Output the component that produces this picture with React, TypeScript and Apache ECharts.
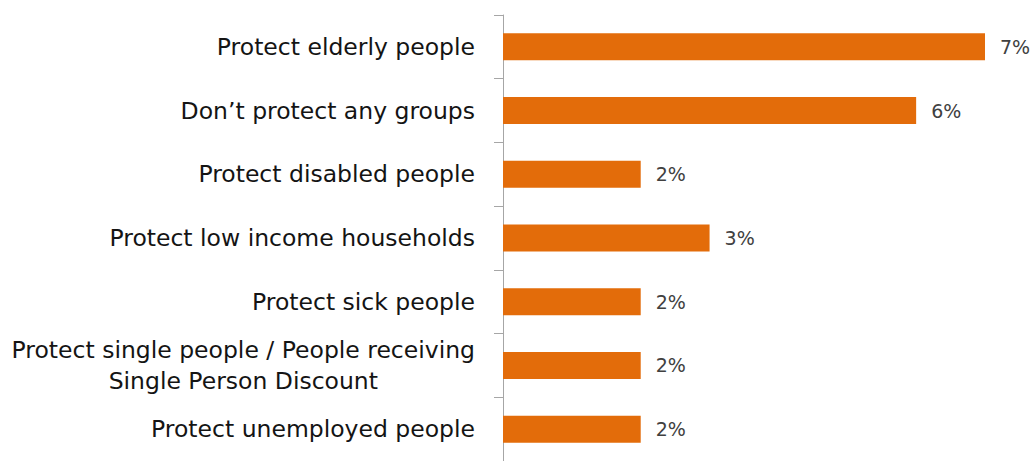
import React, { useEffect, useRef } from "react";
import * as echarts from "echarts";

const categories = [
  "Protect elderly people",
  "Don\u2019t protect any groups",
  "Protect disabled people",
  "Protect low income households",
  "Protect sick people",
  "Protect single people / People receiving\nSingle Person Discount",
  "Protect unemployed people",
];
const values = [7, 6, 2, 3, 2, 2, 2];

export default function App() {
  const ref = useRef<HTMLDivElement>(null);
  useEffect(() => {
    if (!ref.current) return;
    const chart = echarts.init(ref.current, null, { renderer: "svg" });
    const font = "DejaVu Sans";
    chart.setOption({
      animation: false,
      grid: { left: 503, right: 50, top: 15, height: 453 },
      xAxis: { type: "value", min: 0, max: 7, show: false },
      yAxis: {
        type: "category",
        data: categories,
        inverse: true,
        axisLine: { show: true, lineStyle: { color: "#A6A6A6", width: 1 } },
        axisTick: { show: true, length: 9, lineStyle: { color: "#A6A6A6" } },
        axisLabel: {
          margin: 28,
          color: "#141414",
          fontFamily: font,
          fontSize: 23.5,
          lineHeight: 31,
          formatter: (v: string) =>
            v
              .split("\n")
              .map((l) => `{a|${l}}`)
              .join("\n"),
          rich: {
            a: { align: "center", fontFamily: font, fontSize: 23.5, color: "#141414", lineHeight: 31 },
          },
        },
      },
      series: [
        {
          type: "bar",
          data: values,
          barWidth: 27,
          itemStyle: { color: "#E36C0A" },
          label: {
            show: true,
            position: "right",
            distance: 15,
            color: "#404040",
            fontFamily: font,
            fontSize: 19,
            formatter: (p: any) => `${p.value}%`,
          },
        },
      ],
    });
    return () => chart.dispose();
  }, []);
  return (
    <div
      ref={ref}
      style={{ position: "absolute", left: 0, top: 0, width: 1035, height: 461 }}
    />
  );
}
